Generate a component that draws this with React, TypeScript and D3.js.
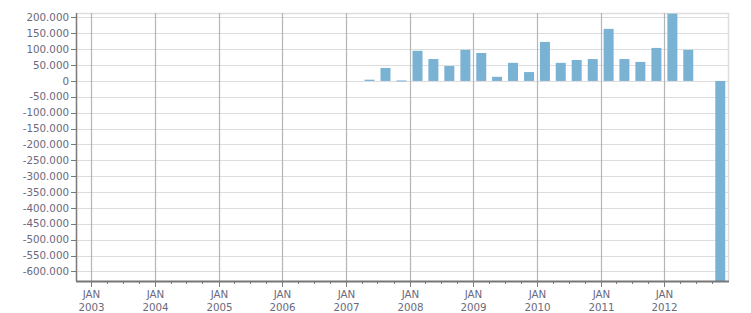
import React from "react";
import * as d3 from "d3";

const quarters: string[] = [
  "2007-04", "2007-07", "2007-10",
  "2008-01", "2008-04", "2008-07", "2008-10",
  "2009-01", "2009-04", "2009-07", "2009-10",
  "2010-01", "2010-04", "2010-07", "2010-10",
  "2011-01", "2011-04", "2011-07", "2011-10",
  "2012-01", "2012-04", "2012-07", "2012-10",
];
const values: (number | null)[] = [
  4000, 41000, 1500,
  95000, 69000, 47000, 98000,
  88000, 13000, 57000, 28000,
  123000, 57000, 66000, 69000,
  164000, 69000, 60000, 104000,
  212000, 98000, null, -630000,
];
const yTicks: number[] = [200000, 150000, 100000, 50000, 0, -50000, -100000, -150000, -200000, -250000, -300000, -350000, -400000, -450000, -500000, -550000, -600000];
const yearTicks: number[] = [2003, 2004, 2005, 2006, 2007, 2008, 2009, 2010, 2011, 2012];
const monthLabel = "JAN";

const W = 751, H = 313;
const M = { left: 76, right: 22, top: 13, bottom: 32 };

const locale = d3.formatLocale({ decimal: ",", thousands: ".", grouping: [3], currency: ["", ""], minus: "-" });
const fmt = locale.format(",d");

export default function App() {
  const x = d3.scaleTime()
    .domain([new Date(2002, 9, 7), new Date(2013, 0, 5)])
    .range([M.left, W - M.right]);
  const y = d3.scaleLinear().domain([-630000, 214000]).range([H - M.bottom, M.top]);
  const parse = d3.timeParse("%Y-%m");
  const minor = d3.timeMonth.every(3)!.range(new Date(2002, 9, 1), new Date(2013, 0, 1))
    .filter((d) => x(d) >= M.left && x(d) <= W - M.right);
  const font = "'DejaVu Sans', sans-serif";
  const fs = 10.3;
  const textColor = "#6a6a7c";
  const bottom = H - M.bottom;
  return (
    <svg width={W} height={H} style={{ position: "absolute", left: 0, top: 0, background: "#fff" }}>
      {yTicks.map((t) => (
        <line key={"h" + t} x1={M.left} x2={W - M.right} y1={Math.round(y(t)) + 0.5} y2={Math.round(y(t)) + 0.5} stroke="#dddddd" />
      ))}
      <line x1={M.left} x2={W - M.right} y1={M.top + 0.5} y2={M.top + 0.5} stroke="#dddddd" strokeWidth={1.5} />
      <line x1={W - M.right - 0.5} x2={W - M.right - 0.5} y1={M.top} y2={bottom} stroke="#dddddd" strokeWidth={1.5} />
      {yearTicks.map((yr) => {
        const px = Math.round(x(new Date(yr, 0, 1))) + 0.5;
        return <line key={"v" + yr} x1={px} x2={px} y1={M.top} y2={bottom} stroke="#b5b5b5" strokeWidth={1.2} />;
      })}
      {quarters.map((q, i) => {
        const v = values[i];
        if (v === null) return null;
        const s = parse(q)!;
        const e = d3.timeMonth.offset(s, 3);
        const cx = (x(s) + x(e)) / 2;
        const bw = 10;
        const y0 = y(0), y1 = y(v);
        return (
          <rect key={q} x={cx - bw / 2} width={bw} y={Math.min(y0, y1)} height={Math.max(1, Math.abs(y1 - y0))} fill="#7ab2d4" />
        );
      })}
      <line x1={M.left + 0.5} x2={M.left + 0.5} y1={M.top} y2={bottom} stroke="#7a7a7a" strokeWidth={1.5} />
      {yTicks.map((t) => (
        <g key={"yt" + t}>
          <line x1={M.left - 5} x2={M.left} y1={Math.round(y(t)) + 0.5} y2={Math.round(y(t)) + 0.5} stroke="#7a7a7a" />
          <text x={M.left - 7} y={y(t)} dy="0.35em" textAnchor="end" fontFamily={font} fontSize={fs} fill={textColor}>
            {fmt(t)}
          </text>
        </g>
      ))}
      {minor.map((d) => {
        const px = Math.round(x(d)) + 0.5;
        return <line key={"m" + +d} x1={px} x2={px} y1={bottom} y2={bottom + 3} stroke="#7a7a7a" />;
      })}
      {yearTicks.map((yr) => {
        const px = Math.round(x(new Date(yr, 0, 1))) + 0.5;
        return (
          <g key={"xt" + yr}>
            <line x1={px} x2={px} y1={bottom} y2={bottom + 6} stroke="#7a7a7a" />
            <text x={px} y={bottom + 17} textAnchor="middle" fontFamily={font} fontSize={fs} fill={textColor}>{monthLabel}</text>
            <text x={px} y={bottom + 30} textAnchor="middle" fontFamily={font} fontSize={fs} fill={textColor}>{yr}</text>
          </g>
        );
      })}
      <line x1={M.left} x2={W - M.right} y1={bottom + 0.5} y2={bottom + 0.5} stroke="#777777" strokeWidth={2.2} />
    </svg>
  );
}
